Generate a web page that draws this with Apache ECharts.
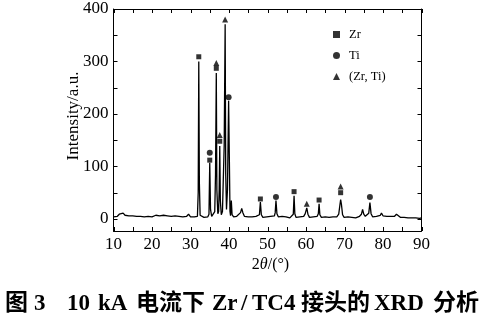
<!DOCTYPE html>
<html>
<head>
<meta charset="utf-8">
<script src="https://cdn.jsdelivr.net/npm/echarts@6/dist/echarts.min.js"></script>
<style>
  html, body { margin: 0; padding: 0; background: #fff; }
  #chart { width: 493px; height: 326px; }
</style>
</head>
<body>
<div id="chart"></div>
<script>
// XRD pattern, 2θ (degrees) and intensity (a.u.)
const theta = [
  10, 10.5, 11, 11.5, 12, 12.5, 13, 13.5, 14, 14.5, 15, 15.5, 16, 16.5, 17, 17.5, 18, 18.5, 19, 19.5,
  20, 20.5, 21, 21.5, 22, 22.5, 23, 23.5, 24, 24.5, 25, 25.5, 26, 26.5, 27, 27.5, 28, 28.5, 29, 29.5,
  30, 30.5, 31, 31.5, 31.8, 32.0, 32.15, 32.3, 32.5, 33, 33.5, 34, 34.5, 34.8, 35.0, 35.2, 35.5, 36, 36.3, 36.5,
  36.7, 36.85, 37.1, 37.3, 37.45, 37.6, 37.75, 38.0, 38.3, 38.75, 39.0, 39.15, 39.35, 39.6, 39.9, 40.1, 40.25, 40.4, 40.6, 40.8,
  41.2, 41.6, 42, 42.5, 43, 43.3, 43.6, 44, 44.5, 45, 45.5, 46, 46.5, 47, 47.5, 47.9, 48.15, 48.4, 48.8, 49.3,
  49.8, 50.3, 50.8, 51.3, 51.8, 52.0, 52.2, 52.45, 52.8, 53.3, 53.8, 54.3, 54.8, 55.3, 55.8, 56.3, 56.7, 56.9, 57.1, 57.4,
  57.9, 58.4, 58.9, 59.4, 59.8, 60.2, 60.5, 60.9, 61.4, 61.9, 62.4, 62.9, 63.2, 63.4, 63.6, 64, 64.5, 65, 65.5, 66,
  66.5, 67, 67.5, 68, 68.5, 68.8, 69.0, 69.2, 69.5, 69.9, 70.4, 70.9, 71.4, 71.9, 72.4, 72.9, 73.4, 73.9, 74.4, 74.7,
  75.0, 75.4, 75.8, 76.3, 76.6, 76.9, 77.3, 77.8, 78.3, 78.8, 79.3, 79.6, 80, 80.5, 81, 81.5, 82, 82.5, 83, 83.5,
  84, 84.5, 85, 85.5, 86, 86.5, 87, 87.5, 88, 88.5, 89, 89.5, 90
];
const intensity = [
  4, 7, 5, 9, 8, 11, 7, 9, 6, 8, 6, 7, 5, 7, 5, 6, 4, 6, 5, 7,
  4, 5, 7, 4, 6, 5, 7, 4, 6, 8, 5, 4, 6, 3, 5, 3, 4, 3, 5, 9,
  4, 3, 4, 3, 5, 50, 300, 70, 7, 4, 3, 5, 4, 9, 107, 18, 5, 6, 14, 85,
  278, 55, 10, 14, 55, 139, 35, 8, 14, 140, 371, 85, 18, 55, 225, 110, 15, 6, 35, 8,
  4, 3, 5, 7, 12, 20, 12, 5, 3, 4, 2, 4, 3, 5, 3, 8, 32, 8, 3, 2,
  4, 3, 5, 3, 6, 12, 35, 10, 4, 3, 5, 2, 4, 3, 2, 4, 9, 44, 10, 3,
  2, 4, 3, 5, 10, 21, 9, 3, 2, 4, 3, 5, 10, 29, 8, 3, 2, 4, 2, 3,
  2, 4, 2, 4, 9, 26, 37, 28, 8, 3, 2, 4, 2, 3, 4, 2, 3, 5, 9, 18,
  9, 5, 7, 11, 31, 10, 4, 3, 5, 4, 7, 11, 6, 4, 5, 3, 5, 7, 5, 9,
  6, 3, 2, 3, 1, 2, 0, 2, 1, 2, 0, 1, 2
];

// phase markers [2θ, height]
const zrMarks = [[32.15, 309], [35.0, 112], [36.7, 287], [37.6, 148], [48.15, 38], [56.9, 52], [63.4, 36], [69.0, 50]];
const tiMarks = [[35.0, 126], [39.9, 232], [52.2, 42], [76.6, 42]];
const zrTiMarks = [[36.7, 297], [37.6, 160], [39.0, 380], [60.2, 29], [69.0, 62]];

const xLabels = [10, 20, 30, 40, 50, 60, 70, 80, 90];
const xTicks = [10, 15, 20, 25, 30, 35, 40, 45, 50, 55, 60, 65, 70, 75, 80, 85, 90];
const yLabels = [0, 100, 200, 300, 400];
const yTicks = [0, 50, 100, 150, 200, 250, 300, 350, 400];

// caption pieces and their left edges
const captionParts = ['图', '3', '10', 'kA', '电流下', 'Zr', '/', 'TC4', '接头的', 'XRD', '分析'];
const captionLeft = [5, 34, 67, 98, 136, 212, 241, 252, 301, 374, 433];

const serif = '"Liberation Serif", "Times New Roman", serif';
const TICK_LEN = 4;

const chart = echarts.init(document.getElementById('chart'));

function axisLine() {
  return { show: true, onZero: false, lineStyle: { color: '#000', width: 1 } };
}

// inward ticks on both opposite sides of the frame, positioned via the axis scale
function tickSeries(values, isX) {
  return {
    type: 'custom',
    silent: true,
    clip: false,
    z: 5,
    data: values.map((v) => (isX ? [v, 0] : [10, v])),
    renderItem: (params, api) => {
      const cs = params.coordSys;
      const p = api.coord([api.value(0), api.value(1)]);
      const style = { stroke: '#000', lineWidth: 1 };
      if (isX) {
        const x = Math.round(p[0]) + 0.5;
        const b = cs.y + cs.height;
        return {
          type: 'group',
          children: [
            { type: 'line', shape: { x1: x, y1: b, x2: x, y2: b - TICK_LEN }, style },
            { type: 'line', shape: { x1: x, y1: cs.y, x2: x, y2: cs.y + TICK_LEN }, style }
          ]
        };
      }
      const y = Math.round(p[1]) + 0.5;
      const r = cs.x + cs.width;
      return {
        type: 'group',
        children: [
          { type: 'line', shape: { x1: cs.x, y1: y, x2: cs.x + TICK_LEN, y2: y }, style },
          { type: 'line', shape: { x1: r, y1: y, x2: r - TICK_LEN, y2: y }, style }
        ]
      };
    }
  };
}

chart.setOption({
  animation: false,
  backgroundColor: '#fff',
  grid: { left: 113.5, right: 71.5, top: 9, bottom: 95 },
  legend: {
    data: ['Zr', 'Ti', '(Zr, Ti)'],
    orient: 'vertical',
    left: 328,
    top: 23,
    itemWidth: 7,
    itemHeight: 7,
    itemGap: 8,
    textStyle: { fontFamily: serif, fontSize: 12.5, color: '#000', padding: [0, 0, 0, 4] }
  },
  xAxis: [
    {
      type: 'value',
      min: 10,
      max: 90,
      position: 'bottom',
      axisLine: axisLine(),
      axisTick: { show: false },
      axisLabel: {
        customValues: xLabels,
        margin: 5,
        fontFamily: serif,
        fontSize: 17,
        color: '#000'
      },
      splitLine: { show: false },
      name: '2{i|θ}/(°)',
      nameLocation: 'middle',
      nameGap: 26,
      nameMoveOverlap: false,
      nameTextStyle: {
        fontFamily: serif,
        fontSize: 16,
        color: '#000',
        padding: [0, 0, 0, 6],
        rich: { i: { fontFamily: serif, fontSize: 16, fontStyle: 'italic', color: '#000' } }
      }
    },
    {
      type: 'value',
      min: 10,
      max: 90,
      position: 'top',
      axisLine: axisLine(),
      axisTick: { show: false },
      axisLabel: { show: false },
      splitLine: { show: false }
    }
  ],
  yAxis: [
    {
      type: 'value',
      min: -23,
      max: 400,
      position: 'left',
      axisLine: axisLine(),
      axisTick: { show: false },
      axisLabel: {
        customValues: yLabels,
        margin: 5,
        fontFamily: serif,
        fontSize: 17,
        color: '#000'
      },
      splitLine: { show: false },
      name: 'Intensity/a.u.',
      nameLocation: 'middle',
      nameGap: 31,
      nameMoveOverlap: false,
      nameTextStyle: { fontFamily: serif, fontSize: 17, color: '#000', padding: [0, 0, 0, 8] }
    },
    {
      type: 'value',
      min: -23,
      max: 400,
      position: 'right',
      axisLine: axisLine(),
      axisTick: { show: false },
      axisLabel: { show: false },
      splitLine: { show: false }
    }
  ],
  series: [
    {
      name: 'pattern',
      type: 'line',
      data: theta.map((t, i) => [t, intensity[i]]),
      showSymbol: false,
      lineStyle: { color: '#000', width: 1.3 },
      z: 2
    },
    {
      name: 'Zr',
      type: 'scatter',
      data: zrMarks,
      symbol: 'rect',
      symbolSize: 5,
      itemStyle: { color: '#000' },
      z: 3
    },
    {
      name: 'Ti',
      type: 'scatter',
      data: tiMarks,
      symbol: 'circle',
      symbolSize: 6,
      itemStyle: { color: '#000' },
      z: 3
    },
    {
      name: '(Zr, Ti)',
      type: 'scatter',
      data: zrTiMarks,
      symbol: 'triangle',
      symbolSize: 6,
      itemStyle: { color: '#000' },
      z: 3
    },
    tickSeries(xTicks, true),
    tickSeries(yTicks, false)
  ],
  graphic: captionParts.map((txt, i) => ({
    type: 'text',
    left: captionLeft[i],
    top: 293,
    style: {
      text: txt,
      font: 'bold 23px "Liberation Serif", "Noto Sans CJK SC"',
      fill: '#000'
    }
  }))
});
</script>
</body>
</html>
